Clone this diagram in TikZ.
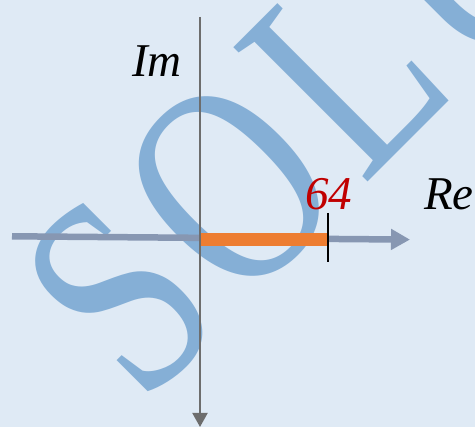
\documentclass[tikz,border=0pt]{standalone}
\usepackage{fontspec}
\setmainfont{Liberation Serif}
\usepackage{tikz}
\usetikzlibrary{arrows.meta}
\definecolor{bgblue}{HTML}{DFEAF5}
\definecolor{markblue}{HTML}{85AFD6}
\definecolor{reaxis}{HTML}{8797B2}
\definecolor{imaxis}{HTML}{6D6D6D}
\definecolor{segorange}{HTML}{ED7D31}
\definecolor{numred}{HTML}{C00000}

\begin{document}
\begin{tikzpicture}[x=1pt,y=1pt,line cap=butt,
  axislabel/.style={inner sep=0pt,anchor=base west,font=\fontsize{47}{47}\selectfont\itshape},
  wmark/.style={markblue,inner sep=0pt,anchor=base west,font=\fontsize{290}{290}\selectfont}]
\useasboundingbox (0,0) rectangle (475,427);
\fill[bgblue] (0,0) rectangle (475,427);
% watermark behind the axes
\begin{scope}
\clip (0,0) rectangle (475,427);
\begin{scope}[shift={(278,155)},rotate=45,transform shape]
\foreach \ch/\u in {S/-192,O/-55,L/121,UTION/272}
  \node[wmark] (mark\ch) at (\u,0) {\scalebox{0.77}[1]{\ch}};
\end{scope}
\end{scope}
\coordinate (reL) at (12,190.7);
\coordinate (reR) at (410,187.4);
\coordinate (imT) at (200,410);
\coordinate (imB) at (200,0);
\coordinate (orig) at (200,187.5);
\coordinate (val) at (328,187.5);
\coordinate (tickT) at (328,214);
\coordinate (tickB) at (328,165);
\draw[reaxis,line width=6.5pt,-{Triangle[length=19pt,width=20pt]}] (reL) -- (reR);
\draw[segorange,line width=12.5pt] (orig) -- (val);
\draw[imaxis,line width=2pt,-{Triangle[length=14pt,width=15pt]}] (imT) -- (imB);
\draw[black,line width=1.3pt] (tickT) -- (tickB);
\node[axislabel] (im) at (132,350) {Im};
\node[axislabel,numred] (num) at (305,217) {64};
\node[axislabel] (re) at (424,217) {Re};
\end{tikzpicture}
\end{document}
